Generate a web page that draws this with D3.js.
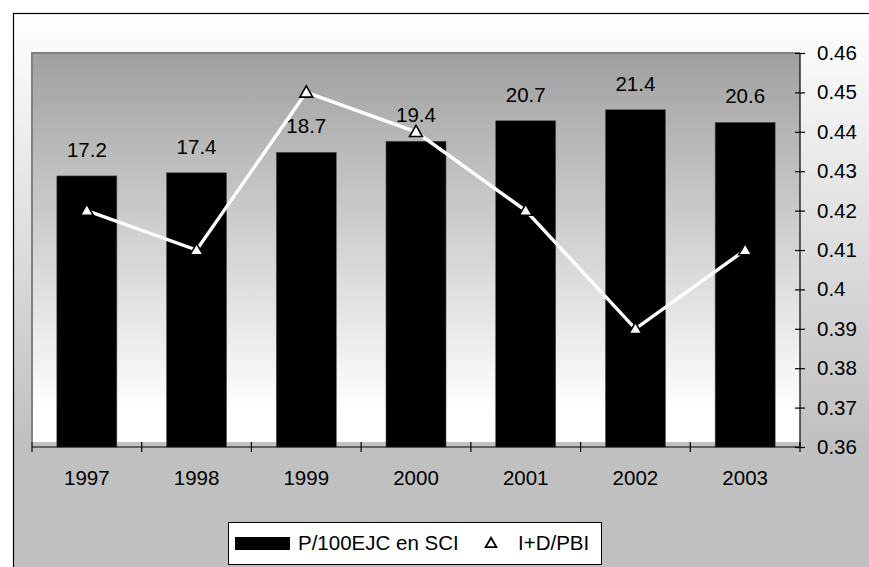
<!DOCTYPE html>
<html>
<head>
<meta charset="utf-8">
<script src="https://cdn.jsdelivr.net/npm/d3@7"></script>
<style>
  html, body { margin: 0; padding: 0; background: #fff; }
  svg { display: block; font-family: "Liberation Sans", Arial, sans-serif; }
</style>
</head>
<body>
<svg id="chart" width="869" height="567"></svg>
<script>
// Publications per 100 researchers (bars) and R&D spending as share of GDP (line)
const years = ["1997", "1998", "1999", "2000", "2001", "2002", "2003"];
const publications = [17.2, 17.4, 18.7, 19.4, 20.7, 21.4, 20.6];
const rdShare = [0.42, 0.41, 0.45, 0.44, 0.42, 0.39, 0.41];
const rightTicks = [0.36, 0.37, 0.38, 0.39, 0.40, 0.41, 0.42, 0.43, 0.44, 0.45, 0.46];
const rightTickLabels = ["0.36", "0.37", "0.38", "0.39", "0.4", "0.41", "0.42", "0.43", "0.44", "0.45", "0.46"];
const barDomain = [0, 25];
const lineDomain = [0.36, 0.46];
const legendLabels = ["P/100EJC en SCI", "I+D/PBI"];

const svg = d3.select("#chart");
const W = 869, H = 567;
const plot = { left: 32, right: 800, top: 53, bottom: 447 };
const fontSize = 20.5;

const defs = svg.append("defs");
const bgGrad = defs.append("linearGradient")
  .attr("id", "bgGrad").attr("gradientUnits", "userSpaceOnUse")
  .attr("x1", 0).attr("x2", 0).attr("y1", 13).attr("y2", H);
bgGrad.append("stop").attr("offset", 0).attr("stop-color", "#ffffff");
bgGrad.append("stop").attr("offset", 0.78).attr("stop-color", "#c0c0c0");
bgGrad.append("stop").attr("offset", 1).attr("stop-color", "#c0c0c0");

const plotGrad = defs.append("linearGradient")
  .attr("id", "plotGrad").attr("gradientUnits", "userSpaceOnUse")
  .attr("x1", 0).attr("x2", 0).attr("y1", plot.top).attr("y2", plot.bottom - 5);
plotGrad.append("stop").attr("offset", 0).attr("stop-color", "#a0a0a0");
plotGrad.append("stop").attr("offset", 0.92).attr("stop-color", "#ffffff");
plotGrad.append("stop").attr("offset", 1).attr("stop-color", "#ffffff");

// chart area
svg.append("rect")
  .attr("x", 13.5).attr("y", 13.5).attr("width", W).attr("height", H)
  .attr("fill", "url(#bgGrad)").attr("stroke", "#000").attr("stroke-width", 1.2);

// plot area
svg.append("rect")
  .attr("x", plot.left).attr("y", plot.top)
  .attr("width", plot.right - plot.left).attr("height", plot.bottom - 5 - plot.top)
  .attr("fill", "url(#plotGrad)");
svg.append("path")
  .attr("d", `M${plot.left},${plot.bottom - 5}V${plot.top}H${plot.right}`)
  .attr("fill", "none").attr("stroke", "#808080").attr("stroke-width", 2);

// scales
const x = d3.scaleBand().domain(years).range([plot.left, plot.right]).padding(0);
const barW = x.bandwidth() * 0.547;
const yBar = d3.scaleLinear().domain(barDomain).range([plot.bottom, plot.top]);
const yLine = d3.scaleLinear().domain(lineDomain).range([plot.bottom, plot.top]);
const cx = d => x(d) + x.bandwidth() / 2;

// bars
svg.append("g").selectAll("rect")
  .data(years.map((y, i) => ({ year: y, v: publications[i] })))
  .join("rect")
  .attr("x", d => cx(d.year) - barW / 2)
  .attr("y", d => yBar(d.v))
  .attr("width", barW)
  .attr("height", d => yBar(0) - yBar(d.v))
  .attr("fill", "#000")
  .attr("stroke", "#555").attr("stroke-width", 0.6);

// bar value labels
svg.append("g").selectAll("text")
  .data(years.map((y, i) => ({ year: y, v: publications[i] })))
  .join("text")
  .attr("x", d => cx(d.year))
  .attr("y", d => yBar(d.v) - 19)
  .attr("text-anchor", "middle")
  .attr("font-size", fontSize)
  .attr("fill", "#000")
  .text(d => d.v.toFixed(1));

// x axis with crossing ticks at category boundaries
const xAxis = svg.append("g");
xAxis.append("line")
  .attr("x1", plot.left).attr("x2", plot.right)
  .attr("y1", plot.bottom).attr("y2", plot.bottom)
  .attr("stroke", "#000").attr("stroke-width", 1.2);
const bounds = years.map(y => x(y)).concat([x(years[years.length - 1]) + x.bandwidth()]);
xAxis.selectAll("line.tick")
  .data(bounds)
  .join("line").attr("class", "tick")
  .attr("x1", d => d).attr("x2", d => d)
  .attr("y1", plot.bottom - 5).attr("y2", plot.bottom + 5)
  .attr("stroke", "#000").attr("stroke-width", 1.2);
xAxis.selectAll("text")
  .data(years)
  .join("text")
  .attr("x", d => cx(d))
  .attr("y", plot.bottom + 38)
  .attr("text-anchor", "middle")
  .attr("font-size", fontSize)
  .text(d => d);

// right axis
const yAxis = d3.axisRight(yLine)
  .tickValues(rightTicks)
  .tickSize(5)
  .tickPadding(12)
  .tickFormat((d, i) => rightTickLabels[i]);
const gy = svg.append("g")
  .attr("transform", `translate(${plot.right},0)`)
  .call(yAxis);
gy.select(".domain").attr("stroke", "#000").attr("stroke-width", 1.2)
  .attr("d", `M0,${plot.top}V${plot.bottom}`);
gy.selectAll(".tick line").attr("x1", -5).attr("x2", 5)
  .attr("stroke", "#000").attr("stroke-width", 1.2);
gy.selectAll(".tick text")
  .attr("font-size", fontSize)
  .attr("font-family", "Liberation Sans, Arial, sans-serif")
  .attr("fill", "#000");

// line series
const pts = years.map((y, i) => [cx(y), yLine(rdShare[i])]);
svg.append("path")
  .attr("d", d3.line()(pts))
  .attr("fill", "none")
  .attr("stroke", "#fff")
  .attr("stroke-width", 3.4);

const tri = d3.symbol().type(d3.symbolTriangle).size(72);
svg.append("g").selectAll("path")
  .data(pts)
  .join("path")
  .attr("transform", d => `translate(${d[0]},${d[1] + 1})`)
  .attr("d", tri)
  .attr("fill", "#fff")
  .attr("stroke", "#000")
  .attr("stroke-width", 1.6);

// legend
const lg = svg.append("g");
lg.append("rect")
  .attr("x", 228.5).attr("y", 522.5).attr("width", 373).attr("height", 42)
  .attr("fill", "#fff").attr("stroke", "#000").attr("stroke-width", 1);
lg.append("rect")
  .attr("x", 235).attr("y", 537).attr("width", 55).attr("height", 13)
  .attr("fill", "#000");
lg.append("text")
  .attr("x", 298).attr("y", 550)
  .attr("font-size", fontSize)
  .text(legendLabels[0]);
lg.append("path")
  .attr("transform", "translate(491,544)")
  .attr("d", d3.symbol().type(d3.symbolTriangle).size(50)())
  .attr("fill", "#fff").attr("stroke", "#000").attr("stroke-width", 1.8);
lg.append("text")
  .attr("x", 518).attr("y", 550)
  .attr("font-size", fontSize)
  .text(legendLabels[1]);
</script>
</body>
</html>
